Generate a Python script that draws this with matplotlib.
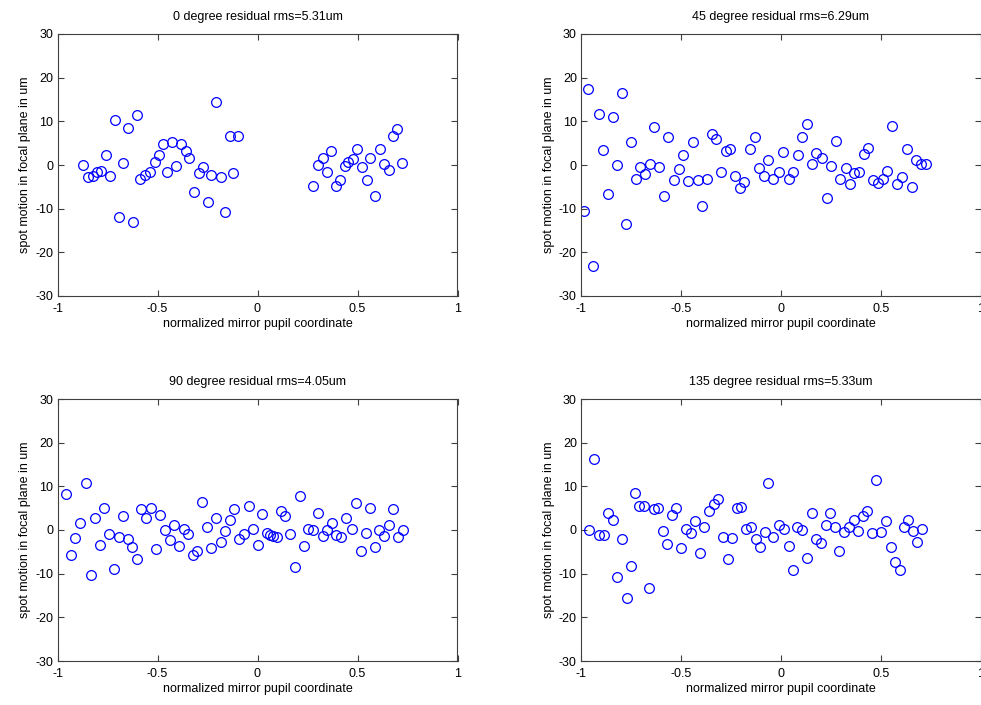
import matplotlib
matplotlib.use("Agg")
import matplotlib.pyplot as plt

plt.rcParams['font.family'] = ['Liberation Sans', 'DejaVu Sans']
plt.rcParams['axes.unicode_minus'] = False

# 0 degree
x0 = [-0.873, -0.85, -0.823, -0.803, -0.782, -0.758, -0.737, -0.713, -0.695, -0.673,
      -0.65, -0.625, -0.603, -0.587, -0.565, -0.54, -0.515, -0.493, -0.475, -0.453,
      -0.428, -0.407, -0.382, -0.358, -0.342, -0.32, -0.295, -0.272, -0.25, -0.232,
      -0.21, -0.185, -0.163, -0.14, -0.122, -0.098,
      0.278, 0.302, 0.325, 0.345, 0.365, 0.39, 0.41, 0.435, 0.452, 0.478,
      0.498, 0.523, 0.547, 0.563, 0.587, 0.61, 0.632, 0.657, 0.675, 0.697, 0.722]
y0 = [0.0, -2.8, -2.6, -1.6, -1.4, 2.2, -2.6, 10.2, -12.0, 0.5,
      8.5, -13.0, 11.4, -3.2, -2.4, -1.6, 0.8, 2.2, 4.7, -1.6,
      5.3, -0.2, 4.7, 3.2, 1.6, -6.1, -1.9, -0.5, -8.4, -2.4,
      14.4, -2.8, -10.8, 6.6, -1.9, 6.6,
      -4.8, 0.0, 1.5, -1.6, 3.3, -4.8, -3.4, -0.3, 0.8, 1.4,
      3.7, -0.5, -3.4, 1.6, -7.2, 3.7, 0.3, -1.1, 6.6, 8.2, 0.5]

# 45 degree
x45 = [-0.987, -0.963, -0.942, -0.912, -0.888, -0.865, -0.842, -0.818, -0.795, -0.773,
       -0.748, -0.725, -0.703, -0.678, -0.655, -0.633, -0.608, -0.587, -0.563, -0.533,
       -0.51, -0.488, -0.463, -0.44, -0.417, -0.395, -0.37, -0.347, -0.323, -0.3,
       -0.277, -0.253, -0.23, -0.207, -0.183, -0.157, -0.132, -0.11, -0.087, -0.063,
       -0.04, -0.008, 0.012, 0.038, 0.058, 0.085, 0.107, 0.132, 0.153, 0.177,
       0.205, 0.23, 0.252, 0.275, 0.297, 0.323, 0.345, 0.367, 0.392, 0.415,
       0.437, 0.46, 0.483, 0.508, 0.532, 0.555, 0.582, 0.607, 0.628, 0.653,
       0.675, 0.7, 0.723]
y45 = [-10.6, 17.5, -23.1, 11.7, 3.5, -6.6, 11.1, 0.0, 16.5, -13.6,
       5.3, -3.1, -0.5, -2.1, 0.2, 8.8, -0.5, -7.2, 6.4, -3.5,
       -1.0, 2.4, -3.7, 5.3, -3.5, -9.3, -3.1, 7.2, 5.9, -1.6,
       3.3, 3.7, -2.6, -5.3, -4.0, 3.7, 6.4, -0.8, -2.6, 1.1,
       -3.1, -1.6, 2.9, -3.1, -1.6, 2.4, 6.4, 9.3, 0.3, 2.7,
       1.6, -7.5, -0.2, 5.6, -3.1, -0.8, -4.4, -1.8, -1.6, 2.6,
       4.0, -3.5, -4.1, -3.1, -1.3, 9.0, -4.4, -2.8, 3.7, -5.0,
       1.1, 0.3, 0.3]

# 90 degree
x90 = [-0.958, -0.933, -0.912, -0.887, -0.858, -0.835, -0.812, -0.788, -0.767, -0.742,
       -0.718, -0.695, -0.673, -0.648, -0.627, -0.603, -0.582, -0.557, -0.533, -0.51,
       -0.487, -0.463, -0.44, -0.417, -0.393, -0.37, -0.348, -0.325, -0.302, -0.277,
       -0.255, -0.232, -0.208, -0.185, -0.162, -0.138, -0.117, -0.093, -0.07, -0.045,
       -0.023, 0.0, 0.023, 0.047, 0.063, 0.077, 0.097, 0.117, 0.138, 0.163,
       0.187, 0.21, 0.233, 0.253, 0.275, 0.302, 0.325, 0.348, 0.372, 0.393,
       0.418, 0.442, 0.47, 0.493, 0.518, 0.54, 0.563, 0.585, 0.608, 0.632,
       0.655, 0.678, 0.702, 0.727]
y90 = [8.2, -5.8, -1.9, 1.6, 10.8, -10.4, 2.7, -3.4, 5.0, -1.0,
       -9.0, -1.5, 3.2, -2.1, -4.0, -6.6, 4.7, 2.7, 5.0, -4.4,
       3.5, 0.0, -2.3, 1.1, -3.7, 0.2, -1.0, -5.8, -4.7, 6.5,
       0.8, -4.2, 2.7, -2.8, -0.2, 2.2, 4.7, -2.1, -1.0, 5.6,
       0.2, -3.4, 3.7, -0.7, -1.1, -1.4, -1.5, 4.3, 3.2, -1.0,
       -8.4, 7.7, -3.7, 0.2, 0.1, 4.0, -1.4, 0.0, 1.7, -1.2,
       -1.5, 2.7, 0.2, 6.1, -4.7, -0.7, 5.0, -4.0, 0.1, -1.4,
       1.1, 4.8, -1.5, 0.1]

# 135 degree
x135 = [-0.958, -0.933, -0.912, -0.885, -0.865, -0.842, -0.818, -0.795, -0.772, -0.748,
        -0.73, -0.708, -0.683, -0.662, -0.637, -0.615, -0.592, -0.568, -0.545, -0.523,
        -0.498, -0.477, -0.452, -0.43, -0.405, -0.383, -0.36, -0.337, -0.313, -0.292,
        -0.267, -0.243, -0.222, -0.198, -0.175, -0.152, -0.127, -0.105, -0.082, -0.063,
        -0.04, -0.01, 0.015, 0.038, 0.06, 0.082, 0.105, 0.132, 0.153, 0.177,
        0.202, 0.223, 0.245, 0.27, 0.292, 0.317, 0.34, 0.363, 0.385, 0.408,
        0.432, 0.455, 0.477, 0.502, 0.525, 0.548, 0.572, 0.595, 0.615, 0.637,
        0.658, 0.682, 0.705]
y135 = [0.1, 16.3, -1.2, -1.2, 3.8, 2.4, -10.8, -2.1, -15.6, -8.2,
        8.5, 5.6, 5.6, -13.2, 4.8, 5.1, -0.2, -3.2, 3.5, 5.1,
        -4.2, 0.3, -0.8, 2.0, -5.3, 0.8, 4.3, 5.9, 7.1, -1.5,
        -6.6, -1.8, 5.1, 5.3, 0.3, 0.8, -2.1, -4.0, -0.5, 10.7,
        -1.5, 1.1, 0.2, -3.7, -9.2, 0.6, 0.1, -6.3, 4.0, -2.1,
        -2.9, 1.2, 3.8, 0.6, -4.7, -0.5, 0.6, 2.2, -0.3, 3.3,
        4.3, -0.7, 11.5, -0.5, 2.0, -4.0, -7.4, -9.2, 0.6, 2.2,
        -0.3, -2.8, 0.2]

titles = ["0 degree residual rms=5.31um", "45 degree residual rms=6.29um",
          "90 degree residual rms=4.05um", "135 degree residual rms=5.33um"]
series = [(x0, y0), (x45, y45), (x90, y90), (x135, y135)]

W, H = 981, 705
fig = plt.figure(figsize=(W / 100, H / 100), dpi=100)
boxes = [(57.5, 34), (581, 34), (57.5, 399), (581, 399)]
aw, ah = 400, 262

for (left, top), (xs, ys), title in zip(boxes, series, titles):
    ax = fig.add_axes([left / W, 1 - (top + ah) / H, aw / W, ah / H])
    ax.plot(xs, ys, 'o', mfc='none', mec='#0000ff', ms=7, mew=0.9)
    ax.set_xlim(-1, 1)
    ax.set_ylim(-30, 30)
    ax.set_xticks([-1, -0.5, 0, 0.5, 1])
    ax.set_xticklabels(['-1', '-0.5', '0', '0.5', '1'])
    ax.set_yticks([-30, -20, -10, 0, 10, 20, 30])
    ax.tick_params(direction='in', length=4, width=0.8, labelsize=9,
                   top=True, right=True, pad=3, color='#404040')
    ax.tick_params(axis='x', pad=5)
    for s in ax.spines.values():
        s.set_color('#404040')
        s.set_linewidth(0.8)
    ax.set_title(title, fontsize=9, pad=10)
    ax.set_xlabel('normalized mirror pupil coordinate', fontsize=9, labelpad=2)
    ax.set_ylabel('spot motion in focal plane in um', fontsize=9, labelpad=3)

fig.savefig('out.png', dpi=100)
